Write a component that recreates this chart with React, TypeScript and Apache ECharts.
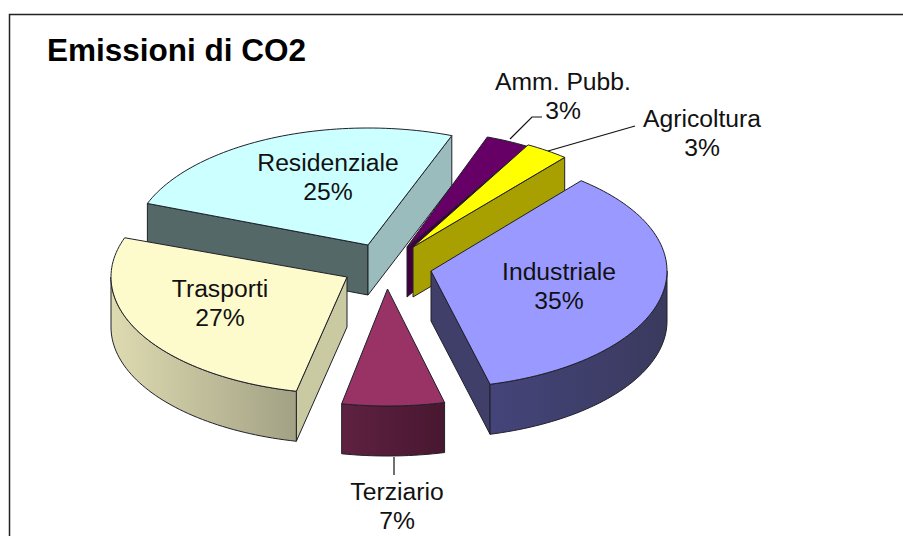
import React, { useEffect, useRef } from "react";
import * as echarts from "echarts";

// Data, in pie order, clockwise
const categories = ["Industriale", "Terziario", "Trasporti", "Residenziale", "Amm. Pubb.", "Agricoltura"];
const shares = [35, 7, 27, 25, 3, 3];
const titleText = "Emissioni di CO2";

// Drawing layout, one entry per slice
const apexX = [431, 387.5, 347, 368, 407, 413];
const apexY = [271, 289, 277, 245, 247, 247];
const tilt = [0.5, 0, -1.2, -2.4, -1.5, 0]; // perspective correction, degrees
const labelX = [559, 397, 220, 328, 563, 702];
const labelY = [286, 506, 303, 177, 96, 133];
const paintRank = [6, 5, 2, 1, 3, 4];
const topColors = ["#9999ff", "#993366", "#fdfbcc", "#ccffff", "#660066", "#ffff00"];
const rimLeft = ["#44447a", "#5f2141", "#dedbb1", "#546868", "#400040", "#a8a000"];
const rimRight = ["#3a3a5e", "#481730", "#a2a184", "#546868", "#400040", "#a8a000"];
const cutFrom = ["#3f3f6a", "#481730", "#cacaa2", "#546868", "#400040", "#a8a000"];
const cutTo = ["#3f3f6a", "#481730", "#cacaa2", "#9abcbc", "#400040", "#a8a000"];
const leaders: number[][][] = [
  [],
  [[394, 457], [394, 475]],
  [],
  [],
  [[510, 139], [532, 117], [542, 117]],
  [[548, 151], [635, 126]],
];

const FIRST_ANGLE = 50;
const RX = 236;
const RY = 117;
const DEPTH = 50;
const FONT = "'Liberation Sans', Arial, sans-serif";
const EDGE = "#20202a";

const total = shares.reduce((a, b) => a + b, 0);

function rimPoint(cx: number, cy: number, deg: number, drop = 0): number[] {
  const r = (deg * Math.PI) / 180;
  return [cx + RX * Math.cos(r), cy - RY * Math.sin(r) + drop];
}

function arcPoints(cx: number, cy: number, from: number, to: number, drop = 0): number[][] {
  const pts: number[][] = [];
  const n = Math.max(2, Math.ceil(Math.abs(from - to) / 1.5));
  for (let i = 0; i <= n; i++) pts.push(rimPoint(cx, cy, from + ((to - from) * i) / n, drop));
  return pts;
}

function renderSlice(params: any, api: any) {
  const i: number = params.dataIndex;
  const value: number = api.value(0);
  let before = 0;
  for (let k = 0; k < i; k++) before += shares[k];
  const from = FIRST_ANGLE - (before / total) * 360 + tilt[i];
  const to = from - (value / total) * 360;
  const cx = apexX[i];
  const cy = apexY[i];
  const z = paintRank[i] * 10;
  const children: any[] = [];
  const stroke = { stroke: EDGE, lineWidth: 1, lineJoin: "round" };

  const cut = (deg: number, fill: string) => {
    const p = rimPoint(cx, cy, deg);
    children.push({
      type: "polygon",
      z2: z,
      shape: { points: [[cx, cy], p, [p[0], p[1] + DEPTH], [cx, cy + DEPTH]] },
      style: { fill, ...stroke },
    });
  };
  // A cut face is drawn only when it faces the viewer
  if (Math.cos((from * Math.PI) / 180) < 0) cut(from, cutFrom[i]);
  if (Math.cos((to * Math.PI) / 180) > 0) cut(to, cutTo[i]);

  // Outer wall: only the part of the rim that faces the viewer (below the horizontal axis)
  const visibleFrom = Math.min(from, 0);
  const visibleTo = Math.max(to, -180);
  if (visibleFrom > visibleTo) {
    const upper = arcPoints(cx, cy, visibleFrom, visibleTo);
    const lower = arcPoints(cx, cy, visibleTo, visibleFrom, DEPTH);
    children.push({
      type: "polygon",
      z2: z + 1,
      shape: { points: upper.concat(lower) },
      style: {
        fill: new echarts.graphic.LinearGradient(0, 0, 1, 0, [
          { offset: 0, color: rimLeft[i] },
          { offset: 1, color: rimRight[i] },
        ]),
        ...stroke,
      },
    });
  }

  children.push({
    type: "polygon",
    z2: z + 2,
    shape: { points: [[cx, cy] as number[]].concat(arcPoints(cx, cy, from, to)) },
    style: { fill: topColors[i], ...stroke },
  });

  if (leaders[i].length) {
    children.push({
      type: "polyline",
      z2: 100,
      shape: { points: leaders[i] },
      style: { fill: "none", stroke: "#111", lineWidth: 1.2 },
    });
  }

  children.push({
    type: "text",
    z2: 110,
    style: {
      x: labelX[i],
      y: labelY[i],
      text: `${categories[i]}\n${Math.round((value / total) * 100)}%`,
      fill: "#111",
      font: `24.7px ${FONT}`,
      lineHeight: 29,
      align: "center",
      verticalAlign: "middle",
    },
  });

  return { type: "group", children };
}

export default function App() {
  const ref = useRef<HTMLDivElement>(null);
  useEffect(() => {
    const chart = echarts.init(ref.current!, undefined, { renderer: "svg" });
    chart.setOption({
      animation: false,
      backgroundColor: "#ffffff",
      title: {
        text: titleText,
        left: 47,
        top: 34,
        padding: 0,
        textStyle: { fontFamily: FONT, fontWeight: "bold", fontSize: 31.5, color: "#000" },
      },
      graphic: [
        {
          type: "polyline",
          shape: { points: [[9.5, 536], [9.5, 14.5], [903, 14.5]] },
          style: { fill: "none", stroke: "#222", lineWidth: 1.5 },
        },
      ],
      series: [
        {
          type: "custom",
          coordinateSystem: "none",
          renderItem: renderSlice,
          encode: { value: 0 },
          data: shares.map((v, i) => ({ name: categories[i], value: [v] })),
        },
      ],
    });
    return () => chart.dispose();
  }, []);
  return (
    <div
      ref={ref}
      style={{ position: "fixed", left: 0, top: 0, width: 903, height: 536, background: "#fff" }}
    />
  );
}
